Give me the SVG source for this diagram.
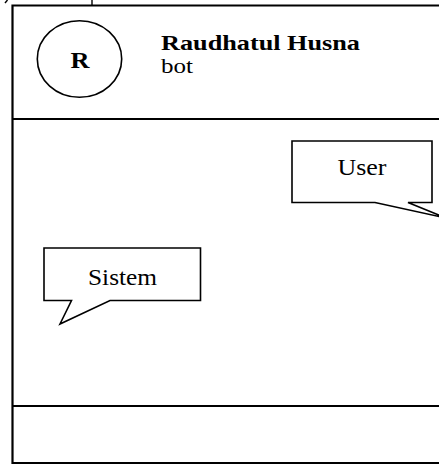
<svg xmlns="http://www.w3.org/2000/svg" width="439" height="464" viewBox="0 0 439 464">
<style>
.frame{fill:none;stroke:#000;stroke-width:2.2}
.shape{fill:#fff;stroke:#000;stroke-width:1.6;stroke-linejoin:miter}
.t{font-family:"Liberation Serif","Times New Roman",serif;fill:#000}
.lbl{font-size:23px;text-anchor:middle}
</style>
<rect width="439" height="464" fill="#fff"/>
<g id="fragments" stroke="#000" stroke-width="1.4" fill="none">
<line x1="5" y1="3" x2="7.5" y2="0"/>
<line x1="92" y1="0" x2="92" y2="5"/>
</g>
<g id="frame">
<polyline class="frame" points="445,5.5 12.5,5.5 12.5,463 445,463"/>
<line class="frame" x1="12.5" y1="119" x2="445" y2="119"/>
<line class="frame" x1="12.5" y1="406" x2="445" y2="406"/>
</g>
<g id="avatar">
<ellipse class="shape" cx="79.5" cy="59" rx="42.2" ry="38.3"/>
<text class="t" x="80" y="68" font-size="24" font-weight="bold" text-anchor="middle" textLength="19" lengthAdjust="spacingAndGlyphs">R</text>
</g>
<g id="header">
<text class="t" x="161" y="50" font-size="22" font-weight="bold" textLength="199" lengthAdjust="spacingAndGlyphs">Raudhatul Husna</text>
<text class="t" x="161" y="73" font-size="22" textLength="32" lengthAdjust="spacingAndGlyphs">bot</text>
</g>
<g id="user">
<path class="shape" d="M292,141 H432 V202.5 H408 L446,218 L375,202.5 H292 Z"/>
<text class="t lbl" x="362" y="175" textLength="49" lengthAdjust="spacingAndGlyphs">User</text>
</g>
<g id="sistem">
<path class="shape" d="M44,248 H200.5 V300.5 H110 L60,324 L71.5,300.5 H44 Z"/>
<text class="t lbl" x="122.5" y="285" textLength="69" lengthAdjust="spacingAndGlyphs">Sistem</text>
</g>
</svg>
